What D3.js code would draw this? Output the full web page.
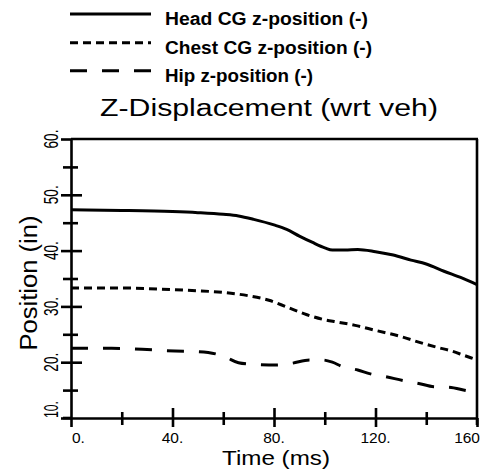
<!DOCTYPE html>
<html><head><meta charset="utf-8">
<script src="https://cdn.jsdelivr.net/npm/d3@7"></script>
<style>body{margin:0;background:#fff}svg{display:block}</style>
</head><body>
<svg id="c" width="490" height="476"></svg>
<script>
// ---- data ----
const seriesNames = ["Head CG z-position (-)", "Chest CG z-position (-)", "Hip z-position (-)"];
const headTime = [0,20,40,50,60,66,72,80,85,90,95,100,103,108,113,120,127,134,140,147,154,160];
const headPos  = [47.3,47.2,47.0,46.8,46.5,46.2,45.6,44.6,43.8,42.6,41.5,40.5,40.1,40.1,40.2,39.8,39.2,38.3,37.6,36.3,35.1,33.9];
const chestTime = [0,20,40,50,60,70,78,85,93,100,105,112,120,130,137,144,150,155,160];
const chestPos  = [33.3,33.3,33.0,32.8,32.5,31.9,31.1,29.9,28.5,27.6,27.2,26.6,25.7,24.6,23.6,22.7,22.0,21.2,20.4];
const hipTime = [0,16,28,41,50,57,61,66,72,78,81,87,94,99,103,107,113,118,124,131,137,143,149,156,160];
const hipPos  = [22.5,22.5,22.3,22.0,21.9,21.5,20.9,19.9,19.6,19.5,19.5,19.8,20.4,20.4,20.0,19.2,18.6,17.9,17.4,16.7,16.2,15.6,15.5,14.9,14.6];
const xMajorTicks = [0,40,80,120,160];
const xMinorTicks = [20,60,100,140];
const xTickLabels = ["0.","40.","80.","120.","160"];
const yMajorTicks = [10,20,30,40,50,60];
const yMinorTicks = [15,25,35,45,55];
const yTickLabels = ["10.","20.","30.","40.","50.","60."];
const chartTitle = "Z-Displacement (wrt veh)";
const xTitle = "Time (ms)";
const yTitle = "Position (in)";

// ---- layout ----
const L = 71, R = 477, T = 139, B = 418;
const svg = d3.select("#c");
const x = d3.scaleLinear().domain([0,160]).range([L,R]);
const y = d3.scaleLinear().domain([10,60]).range([B,T]);
const font = "'Liberation Sans', Arial, Helvetica, sans-serif";
const sw = 2.6;

// frame (top and right)
const frame = svg.append("g").attr("stroke","#000").attr("stroke-width",sw).attr("fill","none");
frame.append("line").attr("x1",x(0)).attr("x2",x(160)+1).attr("y1",y(60)).attr("y2",y(60));
frame.append("line").attr("x1",x(160)).attr("x2",x(160)).attr("y1",y(60)).attr("y2",y(10)+7);

function styleAxis(g){
  g.selectAll("path.domain").attr("stroke","#000").attr("stroke-width",sw);
  g.selectAll(".tick line").attr("stroke","#000").attr("stroke-width",sw);
  g.selectAll(".tick text").remove();
}
// Y axis: ticks crossing the axis line
svg.append("g").attr("transform",`translate(${L},0)`)
  .call(d3.axisLeft(y).tickValues(yMajorTicks).tickSize(10).tickSizeOuter(0)).call(styleAxis);
svg.append("g").attr("transform",`translate(${L},0)`)
  .call(d3.axisRight(y).tickValues(yMajorTicks.slice(1,-1)).tickSize(11).tickSizeOuter(0)).call(styleAxis)
  .select("path.domain").remove();
svg.append("g").attr("transform",`translate(${L},0)`)
  .call(d3.axisLeft(y).tickValues(yMinorTicks).tickSize(8).tickSizeOuter(0)).call(styleAxis)
  .select("path.domain").remove();
svg.append("g").attr("transform",`translate(${L},0)`)
  .call(d3.axisRight(y).tickValues(yMinorTicks).tickSize(7).tickSizeOuter(0)).call(styleAxis)
  .select("path.domain").remove();

// X axis
svg.append("g").attr("transform",`translate(0,${B})`)
  .call(d3.axisBottom(x).tickValues(xMajorTicks).tickSize(9).tickSizeOuter(0)).call(styleAxis);
svg.append("g").attr("transform",`translate(0,${B})`)
  .call(d3.axisTop(x).tickValues(xMajorTicks.slice(1,-1)).tickSize(10).tickSizeOuter(0)).call(styleAxis)
  .select("path.domain").remove();
svg.append("g").attr("transform",`translate(0,${B})`)
  .call(d3.axisBottom(x).tickValues(xMinorTicks).tickSize(7).tickSizeOuter(0)).call(styleAxis)
  .select("path.domain").remove();
svg.append("g").attr("transform",`translate(0,${B})`)
  .call(d3.axisTop(x).tickValues(xMinorTicks).tickSize(6).tickSizeOuter(0)).call(styleAxis)
  .select("path.domain").remove();
// extend x axis slightly left like original
svg.append("line").attr("x1",L-8).attr("x2",L).attr("y1",B).attr("y2",B).attr("stroke","#000").attr("stroke-width",sw);

// x tick labels
svg.append("g").selectAll("text").data(xMajorTicks).join("text")
  .attr("x",(d,i)=> i===0 ? x(d)+1 : (i===xMajorTicks.length-1 ? x(d)+3 : x(d)))
  .attr("y",443)
  .attr("text-anchor",(d,i)=> i===0 ? "start" : (i===xMajorTicks.length-1 ? "end" : "middle"))
  .attr("font-family",font).attr("font-size",15.5)
  .text((d,i)=>xTickLabels[i]);

// y tick labels (rotated)
svg.append("g").selectAll("text").data(yMajorTicks).join("text")
  .attr("transform",(d,i)=>`translate(58,${y(d)}) rotate(-90)`)
  .attr("text-anchor",(d,i)=> i===0 ? "start" : "middle")
  .attr("font-family",font).attr("font-size",20)
  .attr("textLength",(d,i)=> i===0 ? 17 : 19).attr("lengthAdjust","spacingAndGlyphs")
  .text((d,i)=>yTickLabels[i]);

// series lines
const line = d3.line().x(d=>x(d[0])).y(d=>y(d[1])).curve(d3.curveMonotoneX);
const series = [
  {t:headTime, v:headPos, dash:null},
  {t:chestTime, v:chestPos, dash:"8,5"},
  {t:hipTime, v:hipPos, dash:"17,15"}
];
series.forEach(s=>{
  svg.append("path").datum(s.t.map((t,i)=>[t,s.v[i]]))
    .attr("d",line).attr("fill","none").attr("stroke","#000").attr("stroke-width",3)
    .attr("stroke-dasharray",s.dash);
});

// title
svg.append("text").attr("x",269).attr("y",116).attr("text-anchor","middle")
  .attr("font-family",font).attr("font-size",23.5)
  .attr("textLength",338).attr("lengthAdjust","spacingAndGlyphs").text(chartTitle);

// axis titles
svg.append("text").attr("x",276).attr("y",465).attr("text-anchor","middle")
  .attr("font-family",font).attr("font-size",21)
  .attr("textLength",108).attr("lengthAdjust","spacingAndGlyphs").text(xTitle);
svg.append("text").attr("transform","translate(37,283) rotate(-90)").attr("text-anchor","middle")
  .attr("font-family",font).attr("font-size",23)
  .attr("textLength",135).attr("lengthAdjust","spacingAndGlyphs").text(yTitle);

// legend
const legY = [14, 42.7, 70.7];
const legBase = [25.3, 53.5, 81.7];
const legLen = [203, 207, 148];
series.forEach((s,i)=>{
  svg.append("line").attr("x1",70).attr("x2",151).attr("y1",legY[i]).attr("y2",legY[i])
    .attr("stroke","#000").attr("stroke-width",3).attr("stroke-dasharray",s.dash);
  svg.append("text").attr("x",165).attr("y",legBase[i])
    .attr("font-family",font).attr("font-weight","bold").attr("font-size",17.5)
    .attr("textLength",legLen[i]).attr("lengthAdjust","spacingAndGlyphs").text(seriesNames[i]);
});
</script>
</body></html>
